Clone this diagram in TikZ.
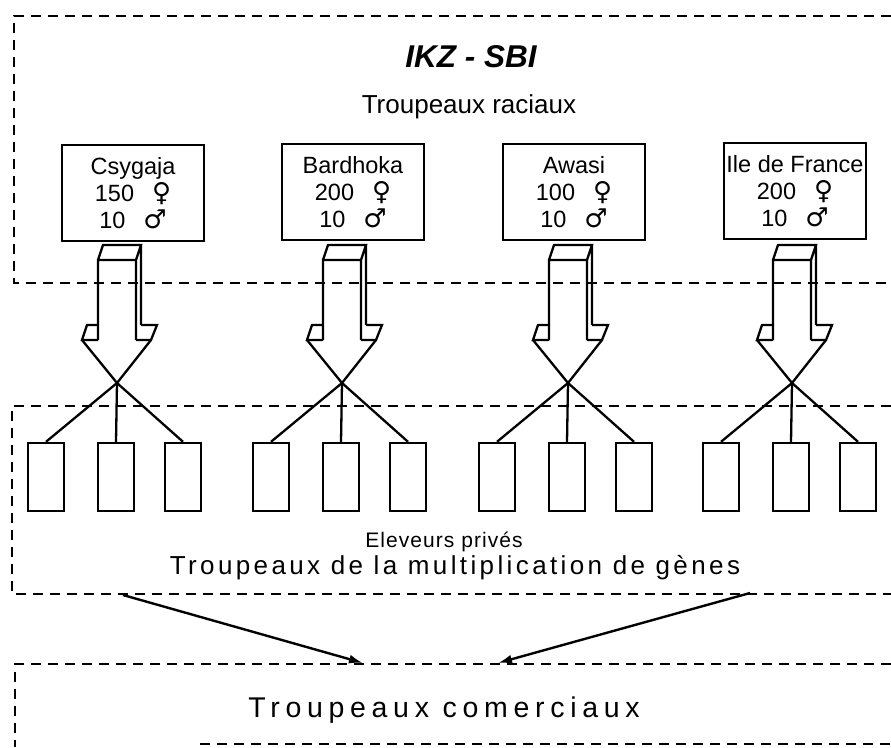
\documentclass[tikz,border=0pt]{standalone}
\usepackage{fontspec}
\setmainfont{Liberation Sans}
\newfontfamily\symfont{DejaVu Sans}
\usetikzlibrary{arrows.meta}

\tikzset{
  breed/.style={draw,line width=2.6pt,minimum width=142pt,minimum height=96pt,
    inner sep=0pt,align=center,font=\fontsize{23.5}{27}\selectfont},
  herd/.style={draw,line width=2.4pt,minimum width=36pt,minimum height=68pt,inner sep=0pt},
  zone/.style={line width=2.8pt,dash pattern=on 10pt off 7pt},
  flow/.style={line width=2.4pt,-{Latex[length=14pt,width=9pt]}},
}
\newcommand{\fem}{{\symfont\fontsize{26}{26}\selectfont ♀}}
\newcommand{\mal}{{\symfont\fontsize{26}{26}\selectfont ♂}}

\begin{document}
\begin{tikzpicture}[x=1pt,y=-1pt,line width=2.3pt]
\useasboundingbox (0,0) rectangle (891,747);

% dashed zones
\draw[zone] (891,16) -- (14,16) -- (14,283) -- (891,283);
\draw[zone] (891,406) -- (12,406) -- (12,594) -- (891,594);
\draw[zone] (891,664) -- (15,664) -- (15,747);
\draw[zone] (200,744) -- (891,744);

% titles
\node[anchor=base] (ikz) at (471,67)
  {\fontsize{31.5}{31}\selectfont\bfseries\itshape IKZ - SBI};
\node[anchor=base] (racial) at (469,113)
  {\fontsize{26}{26}\selectfont Troupeaux raciaux};

% breeds
\node[breed] (csy) at (133,193) {Csygaja\\150\hspace{18pt}\fem\\10\hspace{18pt}\mal};
\node[breed] (bar) at (353,192) {Bardhoka\\200\hspace{18pt}\fem\\10\hspace{18pt}\mal};
\node[breed] (awa) at (574,192) {Awasi\\100\hspace{18pt}\fem\\10\hspace{18pt}\mal};
\node[breed] (ile) at (795,191) {Ile de France\\200\hspace{18pt}\fem\\10\hspace{18pt}\mal};

% block arrows and private herds
\foreach \c/\n in {117/csy,342/bar,568/awa,792/ile}{
  \draw ({\c-19},340) -- ({\c-19},260) -- ({\c+19},260) -- ({\c+19},340)
        ({\c-19},260) -- ({\c-14},245) -- ({\c+24},245) -- ({\c+19},260)
        ({\c+24},245) -- ({\c+24},325);
  \draw ({\c+24},325) -- ({\c+40},325) -- ({\c+34},340) -- ({\c+19},340);
  \draw ({\c-19},325) -- ({\c-30},325) -- ({\c-35},340) -- ({\c-19},340);
  \coordinate (x\n) at (\c,383);
  \node[herd] (\n1) at ({\c-71},477) {};
  \node[herd] (\n2) at ({\c-1},477) {};
  \node[herd] (\n3) at ({\c+66},477) {};
  \draw ({\c-35},340) -- (x\n) -- (\n3.north);
  \draw ({\c+34},340) -- (x\n) -- (\n1.north);
  \draw (x\n) -- (\n2.north);
}

\node[anchor=base] (priv) at (444,547)
  {\fontsize{21}{21}\selectfont\addfontfeatures{LetterSpace=5}Eleveurs privés};
\node[anchor=base] (mult) at (455,574)
  {\fontsize{26}{26}\selectfont\addfontfeatures{LetterSpace=13}Troupeaux de la multiplication de gènes};
\node[anchor=base] (comm) at (444,717)
  {\fontsize{28.5}{28}\selectfont\addfontfeatures{LetterSpace=20}Troupeaux comerciaux};

% to commercial herds
\coordinate (m1) at (123,595);
\coordinate (m2) at (750,593);
\coordinate (c1) at (363,663);
\coordinate (c2) at (498,663);
\draw[flow] (m1) -- (c1);
\draw[flow] (m2) -- (c2);
\end{tikzpicture}
\end{document}
